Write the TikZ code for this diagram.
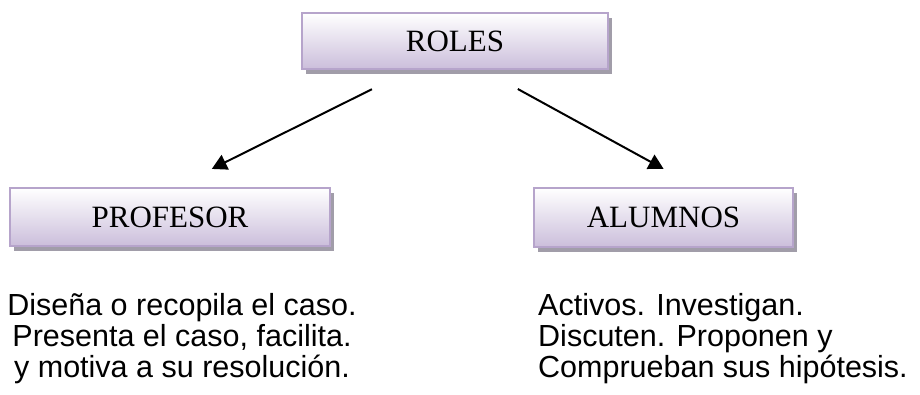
\documentclass[tikz,border=0pt]{standalone}
\usepackage{fontspec}
\setmainfont{Liberation Serif}
\newfontfamily\bodyfont{Liberation Sans}
\usetikzlibrary{shadows,arrows.meta}

\definecolor{lavborder}{HTML}{B6A4CB}
\definecolor{lavfill}{HTML}{CBBEDB}
\definecolor{shgray}{HTML}{A19DA9}

\tikzset{
  rolebox/.style={
    draw=lavborder, line width=2.5pt,
    top color=white, bottom color=lavfill,
    drop shadow={shadow xshift=4pt, shadow yshift=-5pt, fill=shgray, opacity=1},
    inner sep=0pt, font=\fontsize{31}{36}\selectfont
  },
  roleline/.style={line width=2pt, -{Triangle[length=15pt,width=16pt]}},
  notes/.style={font=\bodyfont\fontsize{30.5}{31}\selectfont, inner sep=0pt}
}

\begin{document}
\begin{tikzpicture}[x=1pt,y=-1pt]
  \useasboundingbox (0,0) rectangle (920,394);

  % boxes
  \node[rolebox, minimum width=306pt, minimum height=56pt] (roles) at (455,41) {ROLES};
  \node[rolebox, minimum width=320pt, minimum height=58pt] (prof) at (170,217) {PROFESOR};
  \node[rolebox, minimum width=259pt, minimum height=59pt] (alum) at (663.5,217.5) {ALUMNOS};

  % connectors
  \draw[roleline, shorten <=42.5pt, shorten >=40pt]
    ([xshift=-45pt]roles.south) -- ([xshift=6pt]prof.north);
  \draw[roleline, shorten <=39pt, shorten >=37pt]
    ([xshift=28.6pt]roles.south) -- ([xshift=32.6pt]alum.north);

  % descriptions
  \node[notes, align=center, anchor=north] (profnotes) at (182,293)
    {Diseña o recopila el caso.\\Presenta el caso, facilita.\\y motiva a su resolución.};
  \node[notes, align=left, anchor=north west] (alumnotes) at (538,293)
    {Activos. Investigan.\\Discuten. Proponen y\\Comprueban sus hipótesis.};
\end{tikzpicture}
\end{document}
